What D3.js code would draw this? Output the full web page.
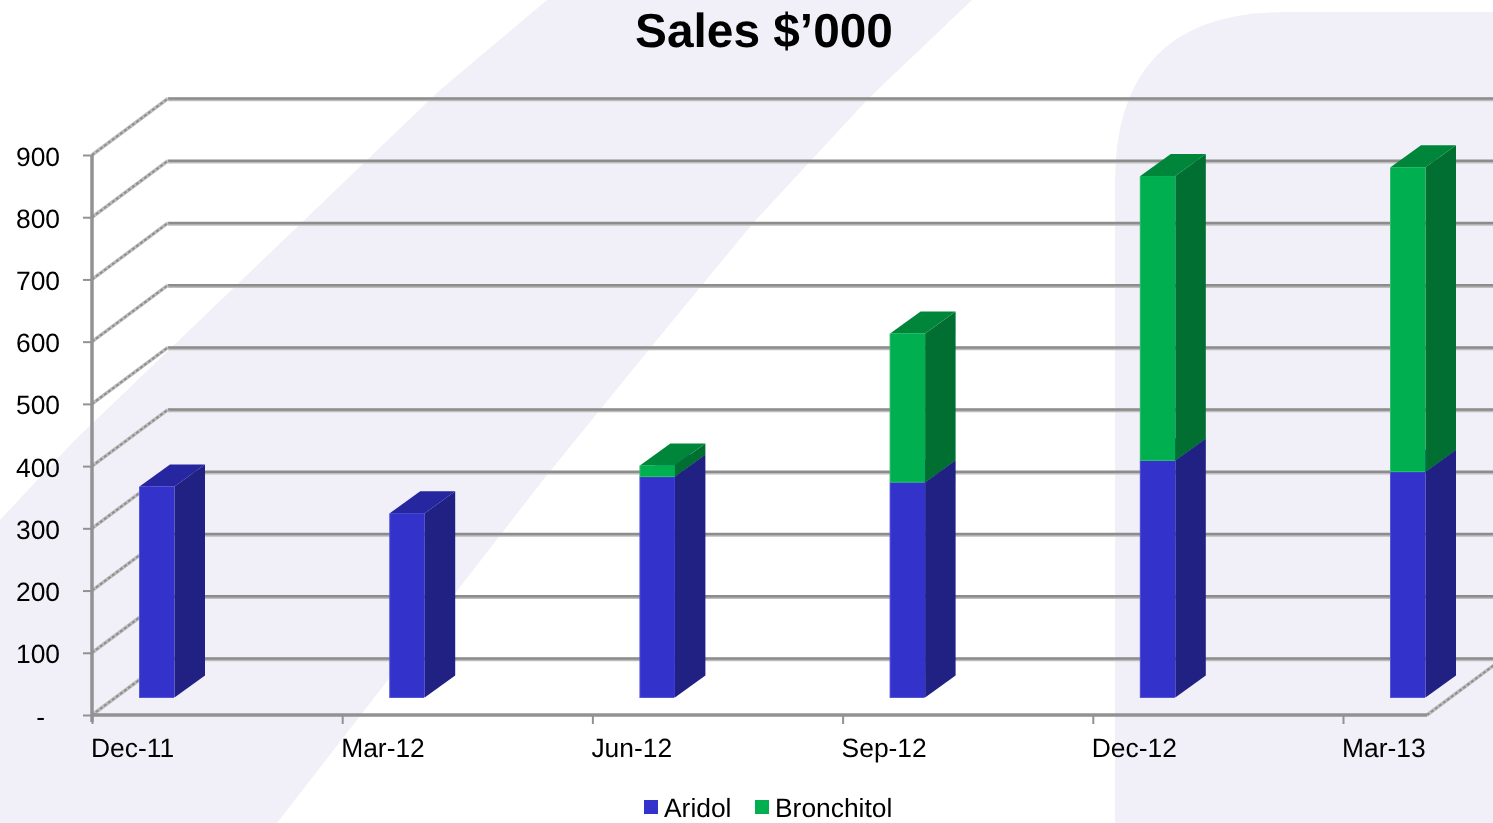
<!DOCTYPE html>
<html>
<head>
<meta charset="utf-8">
<title>Sales</title>
<script src="https://cdn.jsdelivr.net/npm/d3@7"></script>
<style>
  html, body { margin: 0; padding: 0; background: #fff; overflow: hidden; }
  svg { display: block; filter: blur(0.4px); text-rendering: geometricPrecision; }
  text { font-family: "Liberation Sans", Arial, sans-serif; fill: #000; }
  .axis path, .axis line { stroke: #929292; }
  .axis text { font-size: 26.4px; font-family: "Liberation Sans", Arial, sans-serif; fill: #000; }
</style>
</head>
<body>
<div id="chart"></div>
<script>
var categories = ["Dec-11", "Mar-12", "Jun-12", "Sep-12", "Dec-12", "Mar-13"];
var aridol = [339, 296, 355, 346, 381, 363];
var bronchitol = [0, 0, 18, 239, 457, 489];
var yTicks = [0, 100, 200, 300, 400, 500, 600, 700, 800, 900];
var seriesNames = ["Aridol", "Bronchitol"];

var width = 1493, height = 823;
var left = 92, baseY = 715, topY = 155;
var wallDx = 76, wallDy = 56.5;   // 3d offset of the back wall
var barW = 35, barDx = 30.5, barDy = 22, barLift = 17.5, barGap = 47.5;

var colors = {
  Aridol: { front: "#3333cc", edge: "#5555d6", side: "#212184", top: "#2626a0" },
  Bronchitol: { front: "#00b050", edge: "#30bf6f", side: "#006f31", top: "#00863a" }
};

var svg = d3.select("#chart").append("svg")
  .attr("width", width)
  .attr("height", height);

// faint slide artwork behind the chart
var bg = svg.append("g").attr("fill", "#f1eff7");
bg.append("path").attr("d", "M547,0 L972,0 L869,98 L754,222 L651,347 L543,480 L277,823 L0,823 L0,520 L75,440 L440,90 Z");
bg.append("path").attr("d", "M1115,823 L1115,182 Q1115,12 1285,12 L1493,12 L1493,823 Z");

var x = d3.scalePoint()
  .domain(categories)
  .range([left, left + 250.2 * 5]);

var y = d3.scaleLinear()
  .domain([0, 900])
  .range([baseY, topY]);

// gridlines on the back wall and the side wall
var grid = svg.append("g");
grid.selectAll(".back-shade")
  .data(yTicks)
  .enter()
  .append("line")
    .attr("class", "back-shade")
    .attr("x1", left + wallDx)
    .attr("x2", width)
    .attr("y1", function(d) { return y(d) - wallDy + 1; })
    .attr("y2", function(d) { return y(d) - wallDy + 1; })
    .attr("stroke", "#bdbdbd")
    .attr("stroke-width", 3.5);

grid.selectAll(".back")
  .data(yTicks)
  .enter()
  .append("line")
    .attr("class", "back")
    .attr("x1", left + wallDx)
    .attr("x2", width)
    .attr("y1", function(d) { return y(d) - wallDy; })
    .attr("y2", function(d) { return y(d) - wallDy; })
    .attr("stroke", "#8c8c8c")
    .attr("stroke-width", 2.5);

// side wall lines look rough in the original, so a pale line with a dashed one on top
[["#bdbdbd", 3.5, null], ["#8f8f8f", 2, "3 2"]].forEach(function(s) {
  grid.selectAll(".wall")
    .data(yTicks, function(d) { return d + s[0]; })
    .enter()
    .append("line")
      .attr("x1", left)
      .attr("x2", left + wallDx)
      .attr("y1", function(d) { return y(d); })
      .attr("y2", function(d) { return y(d) - wallDy; })
      .attr("stroke", s[0])
      .attr("stroke-width", s[1])
      .attr("stroke-dasharray", s[2]);

  // floor edge on the right
  grid.append("line")
    .attr("x1", 1427)
    .attr("y1", baseY)
    .attr("x2", 1427 + wallDx)
    .attr("y2", baseY - wallDy)
    .attr("stroke", s[0])
    .attr("stroke-width", s[1])
    .attr("stroke-dasharray", s[2]);
});

// axes
var yAxis = d3.axisLeft(y)
  .tickValues(yTicks)
  .tickSize(9)
  .tickPadding(23)
  .tickFormat(function(d) { return d === 0 ? "-" : d; });

var yG = svg.append("g")
  .attr("class", "axis")
  .attr("transform", "translate(" + left + ",0)")
  .call(yAxis);
yG.select(".domain").attr("stroke-width", 3.5).attr("d", "M0," + topY + "V" + (baseY + 7));
yG.selectAll(".tick line").attr("stroke-width", 2);
yG.selectAll(".tick text")
  .attr("dy", "0.38em")
  .attr("dx", function(d) { return d === 0 ? -15 : 0; });

var xAxis = d3.axisBottom(x)
  .tickSize(9)
  .tickPadding(14)
  .tickSizeOuter(0);

var xG = svg.append("g")
  .attr("class", "axis")
  .attr("transform", "translate(0," + baseY + ")")
  .call(xAxis);
xG.select(".domain").attr("stroke-width", 3.5).attr("d", "M" + left + ",0H1427");
xG.selectAll(".tick line").attr("stroke-width", 2);
xG.selectAll(".tick text")
  .attr("text-anchor", "start")
  .attr("x", -1.5)
  .attr("y", 23)
  .attr("dy", "0.71em");

// stacked 3d bars
var rows = categories.map(function(c, i) {
  return { cat: c, Aridol: aridol[i], Bronchitol: bronchitol[i] };
});
var stacked = d3.stack().keys(seriesNames)(rows);

function level(v) {
  return y(v) - barLift;
}

function face(pts) {
  return "M" + pts.map(function(p) { return p.join(","); }).join("L") + "Z";
}

var bars = svg.append("g");
stacked.forEach(function(layer) {
  var c = colors[layer.key];
  var g = bars.append("g").attr("class", "series-" + layer.key);
  var segs = g.selectAll("g")
    .data(layer.filter(function(d) { return d[1] > d[0]; }))
    .enter()
    .append("g");

  segs.append("path")
    .attr("fill", c.side)
    .attr("d", function(d) {
      var x1 = x(d.data.cat) + barGap + barW;
      return face([[x1, level(d[0])], [x1 + barDx, level(d[0]) - barDy],
                   [x1 + barDx, level(d[1]) - barDy], [x1, level(d[1])]]);
    });

  segs.append("path")
    .attr("fill", c.top)
    .attr("d", function(d) {
      var x0 = x(d.data.cat) + barGap;
      return face([[x0, level(d[1])], [x0 + barW, level(d[1])],
                   [x0 + barW + barDx, level(d[1]) - barDy], [x0 + barDx, level(d[1]) - barDy]]);
    });

  // light rim on the left of the front face, then the face itself
  segs.append("rect")
    .attr("fill", c.edge)
    .attr("x", function(d) { return x(d.data.cat) + barGap - 0.5; })
    .attr("width", barW)
    .attr("y", function(d) { return level(d[1]); })
    .attr("height", function(d) { return level(d[0]) - level(d[1]) + 0.5; });

  segs.append("rect")
    .attr("fill", c.front)
    .attr("x", function(d) { return x(d.data.cat) + barGap + 0.5; })
    .attr("width", barW - 0.5)
    .attr("y", function(d) { return level(d[1]); })
    .attr("height", function(d) { return level(d[0]) - level(d[1]) - 0.5; });
});

// title
svg.append("text")
  .attr("x", 764)
  .attr("y", 47)
  .attr("text-anchor", "middle")
  .attr("font-size", 47.8)
  .attr("font-weight", "bold")
  .text("Sales $\u2019000");

// legend
var legendX = [644, 755];
var legend = svg.append("g");
legend.selectAll("rect")
  .data(seriesNames)
  .enter()
  .append("rect")
    .attr("x", function(d, i) { return legendX[i]; })
    .attr("y", 800)
    .attr("width", 14)
    .attr("height", 14)
    .attr("fill", function(d) { return colors[d].front; });
legend.selectAll("text")
  .data(seriesNames)
  .enter()
  .append("text")
    .attr("x", function(d, i) { return legendX[i] + 20; })
    .attr("y", 817)
    .attr("font-size", 26.4)
    .text(function(d) { return d; });
</script>
</body>
</html>
